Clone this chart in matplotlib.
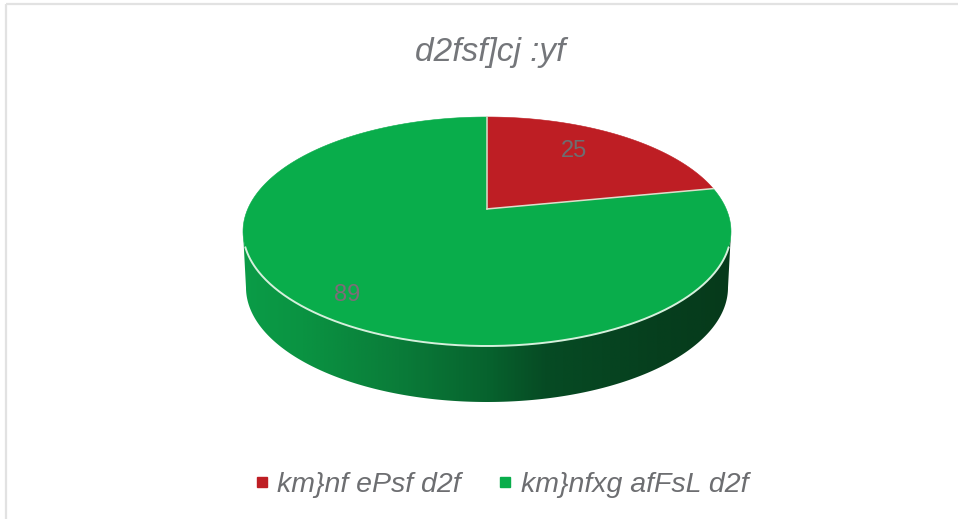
import numpy as np
import matplotlib
matplotlib.use("Agg")
import matplotlib.pyplot as plt
from matplotlib.patches import Polygon, Rectangle
from matplotlib.lines import Line2D
from matplotlib.colors import LinearSegmentedColormap

title = "d2fsf]cj :yf"
categories = ["km}nf ePsf d2f", "km}nfxg afFsL d2f"]
values = [25, 89]
colors = ["#BE1E24", "#09AD4B"]
text_grey = "#6D6E71"

W, H = 958, 519
fig = plt.figure(figsize=(W / 100, H / 100), dpi=100)
ax = fig.add_axes([0, 0, 1, 1])
ax.set_xlim(0, W)
ax.set_ylim(H, 0)
ax.axis("off")

# chart frame
ax.add_patch(Rectangle((6.5, 3.5), W + 20, H + 20, fill=False, ec="#E2E2E2", lw=1.6))

# pie geometry (pixels)
cx, cy, rx, ry = 487.0, 231.5, 244.0, 114.5
depth = 56.0
tilt = 0.197  # perspective shift of the pie centre


def rim(t):
    u, v = np.sin(t), np.cos(t)
    d = 1 + tilt * v
    return cx + rx * u * np.sqrt(1 - tilt**2) / d, cy - ry * (v + tilt) / d


total = sum(values)
edges = 2 * np.pi * np.concatenate([[0], np.cumsum(values)]) / total
apex = (cx, cy - ry * tilt)

# side wall with left-to-right shading
a = np.linspace(0, np.pi, 300)
x_r = cx + rx * np.cos(a)
y_r = cy + ry * np.sin(a)
x_b = cx + (rx - 3) * np.cos(a[::-1])
y_b = cy + depth + ry * np.sin(a[::-1])
side = Polygon(np.column_stack([np.r_[x_r, x_b], np.r_[y_r, y_b]]), closed=True,
               fc="none", ec="none")
ax.add_patch(side)
shade = LinearSegmentedColormap.from_list("shade", [
    (0.00, "#0B9C47"), (0.12, "#0A9342"), (0.32, "#0A7C39"), (0.50, "#07632E"),
    (0.62, "#064B24"), (0.85, "#063F1E"), (1.00, "#063A1B")])
im = ax.imshow(np.linspace(0, 1, 400)[None, :], cmap=shade, aspect="auto",
               extent=(cx - rx, cx + rx, cy + depth + ry, cy - 10), zorder=1)
im.set_clip_path(side)
ax.set_xlim(0, W)
ax.set_ylim(H, 0)

# top slices
for i, c in enumerate(colors):
    t = np.linspace(edges[i], edges[i + 1], 200)
    x, y = rim(t)
    pts = np.column_stack([np.r_[apex[0], x], np.r_[apex[1], y]])
    ax.add_patch(Polygon(pts, closed=True, fc=c, ec=c, lw=0.4, zorder=2))

# light separators between slices
for e in edges[:2]:
    ex, ey = rim(np.array([e]))
    ax.plot([apex[0], ex[0]], [apex[1], ey[0]], color="#E0DCCB", lw=1.1, zorder=3)

# bright front rim
t = np.linspace(np.pi / 2 + 0.14, 3 * np.pi / 2 - 0.14, 300)
ax.plot(cx + rx * np.sin(t), cy - ry * np.cos(t), color="#D5F0DC", lw=1.4, zorder=3)

# data labels
ax.text(574, 151, str(values[0]), color=text_grey, fontsize=17, ha="center", va="center",
        family="Liberation Sans", zorder=4)
ax.text(347, 295, str(values[1]), color="#7E6C78", fontsize=17, ha="center", va="center",
        family="Liberation Sans", zorder=4)

ax.text(490, 52, title, color="#74767A", fontsize=24, style="italic", ha="center", va="center",
        family="Liberation Sans")

handles = [Line2D([], [], ls="none", marker="s", ms=7.5, color=c) for c in colors]
ax.legend(handles, categories, ncol=2, loc="center", bbox_to_anchor=(0.5196, 0.0656),
          frameon=False, handletextpad=0.05, columnspacing=1.05, handlelength=1.0,
          prop={"family": "Liberation Sans", "style": "italic", "size": 20.5},
          labelcolor=text_grey)

fig.savefig("out.png", dpi=100)
